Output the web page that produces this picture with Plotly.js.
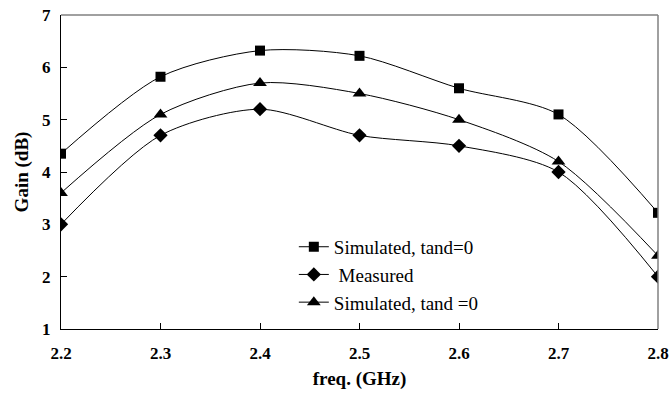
<!DOCTYPE html>
<html><head><meta charset="utf-8">
<script src="https://cdn.plot.ly/plotly-3.0.1.min.js"></script>
<style>html,body{margin:0;padding:0;background:#fff}#chart{width:670px;height:394px}</style>
</head><body><div id="chart"></div>
<script>
const freq = [2.2, 2.3, 2.4, 2.5, 2.6, 2.7, 2.8];
const simulatedA = [4.35, 5.82, 6.32, 6.22, 5.6, 5.1, 3.22];
const measured = [3.0, 4.7, 5.2, 4.7, 4.5, 4.0, 2.0];
const simulatedB = [3.6, 5.1, 5.7, 5.5, 5.0, 4.2, 2.4];
const names = ['Simulated, tand=0', ' Measured', 'Simulated, tand =0'];
const xTicks = [2.2, 2.3, 2.4, 2.5, 2.6, 2.7, 2.8];
const yTicks = [1, 2, 3, 4, 5, 6, 7];

const font = 'Liberation Serif';
function tr(y, name, sym, size) {
  return {x: freq, y: y, name: name, type: 'scatter', mode: 'lines+markers',
    line: {color: '#000', width: 1, shape: 'spline', smoothing: 0.8},
    marker: {symbol: sym, size: size, color: '#000'}};
}
const data = [
  tr(simulatedA, names[0], 'square', 10),
  tr(measured, names[1], 'diamond', 11),
  tr(simulatedB, names[2], 'triangle-up', 12)
];
const layout = {
  width: 670, height: 394,
  margin: {l: 61, r: 12, t: 15, b: 65},
  paper_bgcolor: '#fff', plot_bgcolor: '#fff',
  showlegend: true,
  legend: {x: 0.39, y: 0.322, xanchor: 'left', yanchor: 'top',
    font: {family: font, size: 19, color: '#000'}, bgcolor: 'rgba(0,0,0,0)',
    tracegroupgap: 0, itemwidth: 30},
  shapes: [
    {type: 'line', xref: 'paper', yref: 'paper', x0: 0, x1: 1, y0: 1, y1: 1, line: {color: '#808080', width: 1.5}},
    {type: 'line', xref: 'paper', yref: 'paper', x0: 1, x1: 1, y0: 0, y1: 1, line: {color: '#808080', width: 1.5}}
  ],
  xaxis: {range: [2.2, 2.8], tickvals: xTicks, ticktext: xTicks.map(v => v.toFixed(1)),
    ticks: 'inside', ticklen: 6, tickcolor: '#000', showgrid: false, zeroline: false,
    showline: true, linecolor: '#000', linewidth: 1.2, ticklabelstandoff: 8,
    tickfont: {family: font, size: 17, color: '#000', weight: 'bold'},
    title: {text: '<b>freq. (GHz)</b>', font: {family: font, size: 19, color: '#000'}, standoff: 10}},
  yaxis: {range: [1, 7], tickvals: yTicks,
    ticks: 'inside', ticklen: 6, tickcolor: '#000', showgrid: false, zeroline: false,
    showline: true, linecolor: '#000', linewidth: 1.2, ticklabelstandoff: 6,
    tickfont: {family: font, size: 17, color: '#000', weight: 'bold'},
    title: {text: '<b>Gain (dB)</b>', font: {family: font, size: 19, color: '#000'}, standoff: 8}}
};
Plotly.newPlot('chart', data, layout, {displayModeBar: false, staticPlot: true});
</script></body></html>
